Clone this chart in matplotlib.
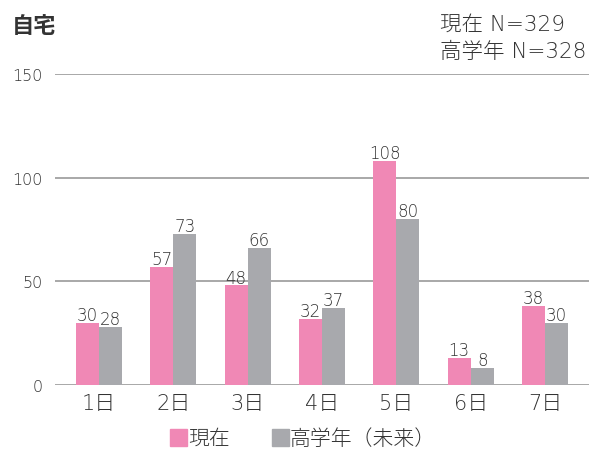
import numpy as np
import matplotlib.pyplot as plt
from matplotlib.patches import Rectangle

# latin glyphs from DejaVu, kanji fall through to Noto CJK
plt.rcParams['font.family'] = ['DejaVu Sans', 'Noto Sans CJK JP']

days = ["1日", "2日", "3日", "4日", "5日", "6日", "7日"]
now_counts = [30, 57, 48, 32, 108, 13, 38]
future_counts = [28, 73, 66, 37, 80, 8, 30]
series_names = ["現在", "高学年（未来）"]
yticks = [0, 50, 100, 150]

pink = "#F088B5"
gray = "#A8A9AD"
text_color = "#333333"


def main():
    fig = plt.figure(figsize=(6.01, 4.52), dpi=100)
    ax = fig.add_axes([0.0915, 0.146, 0.8885, 0.688])

    x = np.arange(len(days))
    w = 0.31
    ax.bar(x - w / 2, now_counts, w, color=pink, zorder=3)
    ax.bar(x + w / 2, future_counts, w, color=gray, zorder=3)

    for xi, v in zip(x - w / 2, now_counts):
        ax.text(xi, v - 0.5, str(v), ha="center", va="bottom",
                fontsize=12, color=text_color, fontweight="light")
    for xi, v in zip(x + w / 2, future_counts):
        ax.text(xi, v - 0.5, str(v), ha="center", va="bottom",
                fontsize=12, color=text_color, fontweight="light")

    ax.set_xlim(-0.59, 6.59)
    ax.set_ylim(0, 150)
    ax.set_yticks(yticks)
    ax.set_yticklabels([str(t) for t in yticks], fontsize=11.5,
                       color=text_color, fontweight="light")
    ax.set_xticks(x)
    ax.set_xticklabels(days, fontsize=15, color=text_color, fontweight="light")
    ax.tick_params(axis="y", length=0, pad=9)
    ax.tick_params(axis="x", length=0, pad=6)
    for s in ax.spines.values():
        s.set_visible(False)
    ax.yaxis.grid(True, color="#9a9a9a", linewidth=1.2, zorder=0)

    # title and sample sizes
    fig.text(12 / 601, 1 - 27 / 452, "自宅", fontsize=16, fontweight="bold",
             color=text_color, va="center")
    fig.text(440 / 601, 1 - 25 / 452, "現在 N=329", fontsize=15.5,
             color=text_color, va="center", fontweight="light")
    fig.text(440 / 601, 1 - 52 / 452, "高学年 N=328", fontsize=15.5,
             color=text_color, va="center", fontweight="light")

    # legend at the bottom
    fig.patches.append(Rectangle((170 / 601, 1 - 447 / 452), 17 / 601, 17 / 452,
                                 transform=fig.transFigure, color=pink))
    fig.text(188 / 601, 1 - 439 / 452, series_names[0], fontsize=15,
             color=text_color, va="center", fontweight="light")
    fig.patches.append(Rectangle((272 / 601, 1 - 447 / 452), 17 / 601, 17 / 452,
                                 transform=fig.transFigure, color=gray))
    fig.text(290 / 601, 1 - 439 / 452, series_names[1], fontsize=15,
             color=text_color, va="center", fontweight="light")

    fig.savefig("out.png", dpi=100)


if __name__ == "__main__":
    main()
